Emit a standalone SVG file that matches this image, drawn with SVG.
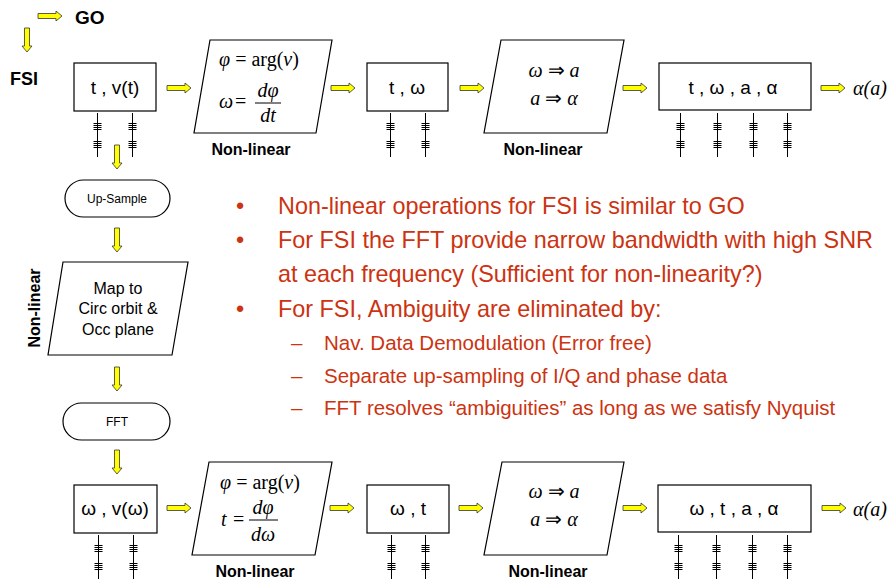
<svg xmlns="http://www.w3.org/2000/svg" xmlns:xlink="http://www.w3.org/1999/xlink" width="893" height="581" viewBox="0 0 893 581">
<style>
.box{fill:#fff;stroke:#000;stroke-width:1.2}
.lbl{font-family:"Liberation Sans",Arial,sans-serif;font-size:19px;fill:#000;text-anchor:middle}
.bold{font-family:"Liberation Sans",Arial,sans-serif;font-weight:bold;fill:#000}
.nl{font-size:16px;text-anchor:middle}
.math{font-family:"Liberation Serif","Times New Roman",serif;font-size:20px;fill:#000}
.it{font-style:italic}
.small{font-family:"Liberation Sans",Arial,sans-serif;font-size:12px;fill:#000;text-anchor:middle}
.mid{font-family:"Liberation Sans",Arial,sans-serif;font-size:16px;fill:#000;text-anchor:middle}
.bul{font-family:"Liberation Sans",Arial,sans-serif;font-size:23.4px;fill:#CC3311}
.sub{font-family:"Liberation Sans",Arial,sans-serif;font-size:20.5px;fill:#CC3311}
.arr{fill:#FFFF00;stroke:#333;stroke-width:0.8}
.bus line{stroke:#000;stroke-width:1}
</style>
<defs>
<path id="ar" class="arr" d="M0,-2.5 H18 V-5 L24,0 L18,5 V2.5 H0 Z"/>
<g id="bus" class="bus">
<line x1="0.5" y1="0" x2="0.5" y2="44"/>
<line x1="-3.5" y1="10.5" x2="4.5" y2="10.5"/>
<line x1="-3.5" y1="12.5" x2="4.5" y2="12.5"/>
<line x1="-3.5" y1="14.5" x2="4.5" y2="14.5"/>
<line x1="-3.5" y1="16.5" x2="4.5" y2="16.5"/>
<line x1="-3.5" y1="28.5" x2="4.5" y2="28.5"/>
<line x1="-3.5" y1="30.5" x2="4.5" y2="30.5"/>
<line x1="-3.5" y1="32.5" x2="4.5" y2="32.5"/>
<line x1="-3.5" y1="34.5" x2="4.5" y2="34.5"/>
</g>
</defs>

<g id="connectors">
<use xlink:href="#ar" transform="translate(38,16)"/>
<use xlink:href="#ar" transform="translate(27,28) rotate(90)"/>
<use xlink:href="#ar" transform="translate(167,88)"/>
<use xlink:href="#ar" transform="translate(331,88)"/>
<use xlink:href="#ar" transform="translate(460,88)"/>
<use xlink:href="#ar" transform="translate(623,88)"/>
<use xlink:href="#ar" transform="translate(821,88)"/>
<use xlink:href="#ar" transform="translate(117,145) rotate(90)"/>
<use xlink:href="#ar" transform="translate(117,228) rotate(90)"/>
<use xlink:href="#ar" transform="translate(117,367) rotate(90)"/>
<use xlink:href="#ar" transform="translate(117,450) rotate(90)"/>
<use xlink:href="#ar" transform="translate(167,508)"/>
<use xlink:href="#ar" transform="translate(330,508)"/>
<use xlink:href="#ar" transform="translate(459,508)"/>
<use xlink:href="#ar" transform="translate(623,508)"/>
<use xlink:href="#ar" transform="translate(822,508)"/>
<use xlink:href="#bus" transform="translate(97,113)"/>
<use xlink:href="#bus" transform="translate(132,113)"/>
<use xlink:href="#bus" transform="translate(390,113)"/>
<use xlink:href="#bus" transform="translate(425,113)"/>
<use xlink:href="#bus" transform="translate(680,113)"/>
<use xlink:href="#bus" transform="translate(717,113)"/>
<use xlink:href="#bus" transform="translate(753,113)"/>
<use xlink:href="#bus" transform="translate(787,113)"/>
<use xlink:href="#bus" transform="translate(98,535)"/>
<use xlink:href="#bus" transform="translate(133,535)"/>
<use xlink:href="#bus" transform="translate(391,535)"/>
<use xlink:href="#bus" transform="translate(425,535)"/>
<use xlink:href="#bus" transform="translate(678,535)"/>
<use xlink:href="#bus" transform="translate(716,535)"/>
<use xlink:href="#bus" transform="translate(752,535)"/>
<use xlink:href="#bus" transform="translate(787,535)"/>
</g>

<g id="go"><text class="bold" x="75" y="24" font-size="19">GO</text></g>
<g id="fsi"><text class="bold" x="10" y="85" font-size="18">FSI</text></g>

<g id="n-tv">
<rect class="box" x="74" y="63" width="82" height="48"/>
<text class="lbl" x="115" y="94">t , v(t)</text>
</g>
<g id="n-phase1">
<polygon class="box" points="210,40 332,40 316,133 194,133"/>
<text class="math" x="259" y="66" text-anchor="middle"><tspan class="it">φ</tspan> = arg(<tspan class="it">v</tspan>)</text>
<text class="math it" x="219" y="108">ω</text>
<text class="math" x="235" y="108">=</text>
<text class="math it" x="268" y="97" text-anchor="middle">dφ</text>
<line x1="255" y1="103" x2="281" y2="103" stroke="#000" stroke-width="1"/>
<text class="math it" x="268" y="122" text-anchor="middle">dt</text>
<text class="bold nl" x="251" y="155">Non-linear</text>
</g>
<g id="n-tw">
<rect class="box" x="367" y="63" width="81" height="48"/>
<text class="lbl" x="407" y="94">t , ω</text>
</g>
<g id="n-acc1">
<polygon class="box" points="501,40 624,40 607,133 484,133"/>
<text class="math" x="554" y="77" text-anchor="middle"><tspan class="it">ω</tspan> ⇒ <tspan class="it">a</tspan></text>
<text class="math" x="554" y="105" text-anchor="middle"><tspan class="it">a</tspan> ⇒ <tspan class="it">α</tspan></text>
<text class="bold nl" x="543" y="155">Non-linear</text>
</g>
<g id="n-twaa">
<rect class="box" x="659" y="63" width="152" height="47"/>
<text class="lbl" x="733" y="94">t , ω , a , α</text>
</g>
<g id="out1"><text class="math it" x="853" y="95" font-size="22">α(a)</text></g>

<g id="n-upsample">
<rect class="box" x="65" y="180" width="105" height="37" rx="18.5"/>
<text class="small" x="117" y="203">Up-Sample</text>
</g>
<g id="n-map">
<polygon class="box" points="63,262 188,262 172,355 48,355"/>
<text class="mid" x="118" y="294">Map to</text>
<text class="mid" x="118" y="314">Circ orbit &amp;</text>
<text class="mid" x="118" y="335">Occ plane</text>
</g>
<g id="nl-side"><text class="bold nl" transform="translate(40,308) rotate(-90)">Non-linear</text></g>
<g id="n-fft">
<rect class="box" x="63" y="403" width="107" height="37" rx="18.5"/>
<text class="small" x="117" y="426">FFT</text>
</g>

<g id="n-wv">
<rect class="box" x="74" y="485" width="83" height="48"/>
<text class="lbl" x="115" y="515">ω , v(ω)</text>
</g>
<g id="n-phase2">
<polygon class="box" points="209,462 332,462 315,555 192,555"/>
<text class="math" x="260" y="489" text-anchor="middle"><tspan class="it">φ</tspan> = arg(<tspan class="it">v</tspan>)</text>
<text class="math it" x="221" y="526">t</text>
<text class="math" x="233" y="526">=</text>
<text class="math it" x="263" y="514" text-anchor="middle">dφ</text>
<line x1="249" y1="520" x2="278" y2="520" stroke="#000" stroke-width="1"/>
<text class="math it" x="263" y="541" text-anchor="middle">dω</text>
<text class="bold nl" x="255" y="577">Non-linear</text>
</g>
<g id="n-wt">
<rect class="box" x="367" y="485" width="82" height="48"/>
<text class="lbl" x="408" y="515">ω , t</text>
</g>
<g id="n-acc2">
<polygon class="box" points="502,462 624,462 607,555 484,555"/>
<text class="math" x="554" y="498" text-anchor="middle"><tspan class="it">ω</tspan> ⇒ <tspan class="it">a</tspan></text>
<text class="math" x="554" y="526" text-anchor="middle"><tspan class="it">a</tspan> ⇒ <tspan class="it">α</tspan></text>
<text class="bold nl" x="548" y="577">Non-linear</text>
</g>
<g id="n-wtaa">
<rect class="box" x="658" y="485" width="153" height="47"/>
<text class="lbl" x="734" y="515">ω , t , a , α</text>
</g>
<g id="out2"><text class="math it" x="853" y="516" font-size="22">α(a)</text></g>

<g id="bullets">
<text class="bul" x="236" y="214">•</text>
<text class="bul" x="278" y="214">Non-linear operations for FSI is similar to GO</text>
<text class="bul" x="236" y="248">•</text>
<text class="bul" x="278" y="248">For FSI the FFT provide narrow bandwidth with high SNR</text>
<text class="bul" x="278" y="282">at each frequency (Sufficient for non-linearity?)</text>
<text class="bul" x="236" y="317">•</text>
<text class="bul" x="278" y="317">For FSI, Ambiguity are eliminated by:</text>
<text class="sub" x="291" y="350">–</text>
<text class="sub" x="324" y="350">Nav. Data Demodulation (Error free)</text>
<text class="sub" x="291" y="383">–</text>
<text class="sub" x="324" y="383">Separate up-sampling of I/Q and phase data</text>
<text class="sub" x="291" y="415">–</text>
<text class="sub" x="324" y="415">FFT resolves “ambiguities” as long as we satisfy Nyquist</text>
</g>
</svg>
